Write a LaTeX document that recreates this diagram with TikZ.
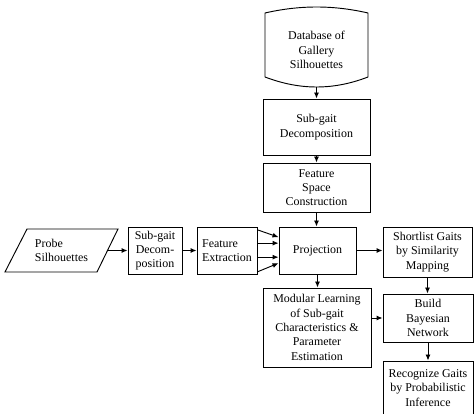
\documentclass[tikz,border=0pt]{standalone}
\usepackage{fontspec}
\setmainfont{Liberation Serif}
\usetikzlibrary{arrows.meta}
\begin{document}
\begin{tikzpicture}[line width=0.8pt,
        every node/.style={font=\fontsize{10.2}{12.2}\selectfont,align=center,inner sep=1pt},
        box/.style={draw,rectangle},
        arr/.style={-{Latex[length=1.8mm,width=1.5mm]}}]
    \useasboundingbox (0,0) rectangle (14.22,-12.42);
    % database
    \draw (7.95,-0.39) .. controls (9.0,-0.15) and (10.0,-0.15) .. (11.04,-0.39)
        -- (11.04,-2.31) .. controls (10.0,-2.71) and (9.0,-2.71) .. (7.95,-2.31) -- cycle;
    \node[minimum width=3.09cm,minimum height=2.2cm] (db) at (9.495,-1.5)
        {Database of\\Gallery\\Silhouettes};
    \coordinate (dbbot) at (9.495,-2.61);
    % probe
    \draw (0.81,-6.87) -- (3.54,-6.87) -- (2.91,-8.16) -- (0.15,-8.16) -- cycle;
    \node[minimum width=2.73cm,minimum height=1.29cm,align=left] (probe) at (1.845,-7.515)
        {Probe\\Silhouettes};
    % boxes
    \node[box,minimum width=3.21cm,minimum height=1.68cm] (sg) at (9.495,-3.81)
        {Sub-gait\\Decomposition};
    \node[box,minimum width=3.21cm,minimum height=1.47cm] (fs) at (9.495,-5.625)
        {Feature\\Space\\Construction};
    \node[box,minimum width=2.31cm,minimum height=1.41cm] (proj) at (9.525,-7.515)
        {Projection};
    \node[box,minimum width=1.62cm,minimum height=1.41cm] (sd) at (4.65,-7.515)
        {Sub-gait\\Decom-\\position};
    \node[box,minimum width=1.8cm,minimum height=1.41cm,align=left] (fe) at (6.81,-7.515)
        {Feature\\Extraction};
    \node[box,minimum width=2.67cm,minimum height=1.5cm] (sl) at (12.825,-7.56)
        {Shortlist Gaits\\by Similarity\\Mapping};
    \node[box,minimum width=3.24cm,minimum height=2.37cm] (ml) at (9.51,-9.825)
        {Modular Learning\\of Sub-gait\\Characteristics \&\\Parameter\\Estimation};
    \node[box,minimum width=2.7cm,minimum height=1.44cm] (bn) at (12.84,-9.54)
        {Build\\Bayesian\\Network};
    \node[box,minimum width=2.7cm,minimum height=1.62cm] (rg) at (12.84,-11.64)
        {Recognize Gaits\\by Probabilistic\\Inference};
    % arrows
    \draw[arr] (dbbot) -- (sg.north);
    \draw[arr] (sg) -- (fs);
    \draw[arr] (fs.south) -- (fs.south |- proj.north);
    \draw[arr] (proj.south) -- (proj.south |- ml.north);
    \draw[arr] (proj.east) -- (proj.east -| sl.west);
    \draw[arr] (sl.south) -- (sl.south |- bn.north);
    \draw[arr] (bn.west -| ml.east) -- (bn.west);
    \draw[arr] (bn) -- (rg);
    \draw[arr] (probe.east) -- (sd.west);
    \draw[arr] (sd) -- (fe);
    \foreach \a/\b in {0.62/0.4, 0.22/0.22, -0.2/-0.2, -0.64/-0.38}
        \draw[arr] ([yshift=\a cm]fe.east) -- ([yshift=\b cm]proj.west);
\end{tikzpicture}
\end{document}
